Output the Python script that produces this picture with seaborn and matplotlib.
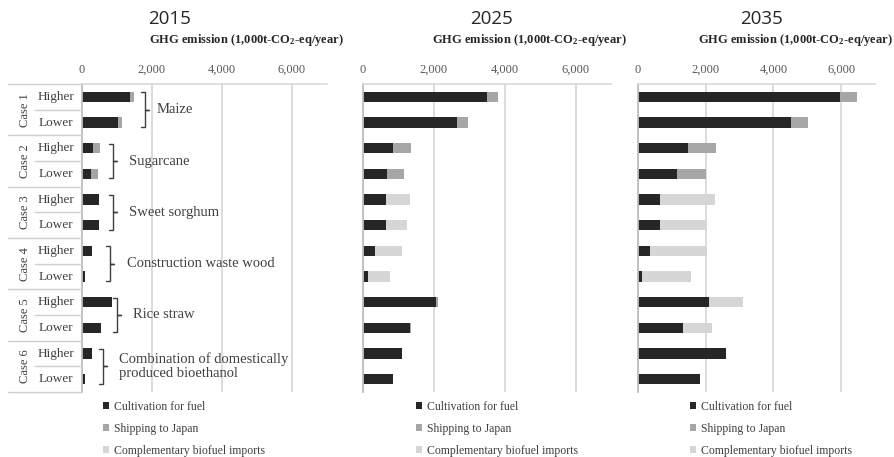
import matplotlib
matplotlib.use("Agg")
import matplotlib.pyplot as plt
import seaborn as sns
import pandas as pd
from matplotlib.lines import Line2D
from matplotlib.patches import Patch
from matplotlib.transforms import blended_transform_factory
from matplotlib.ticker import FuncFormatter

# ---------------- data ----------------
years = ["2015", "2025", "2035"]
cases = ["Case 1", "Case 2", "Case 3", "Case 4", "Case 5", "Case 6"]
scenarios = ["Higher", "Lower"]
feedstocks = ["Maize", "Sugarcane", "Sweet sorghum", "Construction waste wood",
              "Rice straw", "Combination of domestically\nproduced bioethanol"]
series = ["Cultivation for fuel", "Shipping to Japan", "Complementary biofuel imports"]

cult_2015 = [1370, 1030, 320, 250, 500, 500, 300, 100, 850, 530, 300, 100]
ship_2015 = [120, 110, 190, 200, 0, 0, 0, 0, 0, 0, 0, 0]
comp_2015 = [0, 0, 0, 0, 0, 0, 0, 0, 0, 0, 0, 0]

cult_2025 = [3510, 2650, 850, 690, 640, 640, 350, 130, 2060, 1320, 1100, 850]
ship_2025 = [300, 310, 510, 480, 0, 0, 0, 0, 70, 30, 0, 0]
comp_2025 = [0, 0, 0, 0, 690, 610, 740, 640, 0, 0, 0, 0]

cult_2035 = [5980, 4510, 1470, 1140, 660, 660, 350, 120, 2100, 1330, 2610, 1820]
ship_2035 = [500, 510, 830, 860, 0, 0, 0, 0, 0, 0, 0, 0]
comp_2035 = [0, 0, 0, 0, 1600, 1390, 1680, 1450, 990, 860, 0, 0]

xticks = [0, 2000, 4000, 6000]

# ---------------- style ----------------
sns.set_theme(style="white")
plt.rcParams["font.family"] = ["Liberation Serif", "DejaVu Serif"]
plt.rcParams["mathtext.default"] = "regular"

colors = ["#262626", "#a6a6a6", "#d6d6d6"]
txt = "#404040"
grid_c = "#d9d9d9"

W, H = 895, 457
fig = plt.figure(figsize=(W / 100, H / 100), dpi=100)

def fx(px):
    return px / W

def fy(py):
    return 1 - py / H

top_px, bot_px = 84, 392
panels = [(82, 327), (363, 611), (638, 875)]
title_x = [170, 492, 762]
sub_x = [246, 529, 795]
legend_x = [103, 416, 690]

rows = [f"{c} {s}" for c in cases for s in scenarios]
data = {
    "2015": (cult_2015, ship_2015, comp_2015),
    "2025": (cult_2025, ship_2025, comp_2025),
    "2035": (cult_2035, ship_2035, comp_2035),
}

axes = []
for i, yr in enumerate(years):
    l, r = panels[i]
    ax = fig.add_axes([fx(l), fy(bot_px), fx(r) - fx(l), fy(top_px) - fy(bot_px)])
    axes.append(ax)
    cult, ship, comp = data[yr]
    df = pd.DataFrame({"row": rows, "cult": cult, "ship": ship, "comp": comp})
    df["s2"] = df["cult"] + df["ship"]
    df["s3"] = df["s2"] + df["comp"]
    for col, c in zip(["s3", "s2", "cult"], [colors[2], colors[1], colors[0]]):
        sns.barplot(data=df, y="row", x=col, order=rows, color=c, orient="h",
                    width=0.4, errorbar=None, ax=ax, saturation=1,
                    edgecolor="none", linewidth=0)
    ax.set_xlim(0, 7000)
    ax.set_ylim(11.5, -0.5)
    ax.set_xticks(xticks)
    ax.xaxis.set_major_formatter(FuncFormatter(lambda v, p: f"{int(v):,}"))
    ax.xaxis.tick_top()
    ax.tick_params(axis="x", length=0, pad=6, labelsize=9, labelcolor="#595959")
    ax.set_yticks([])
    ax.set_xlabel("")
    ax.set_ylabel("")
    for lab in ax.get_xticklabels():
        lab.set_fontfamily(["Liberation Serif"])
    ax.grid(axis="x", color=grid_c, linewidth=1.3)
    ax.set_axisbelow(True)
    for s in ["right", "bottom"]:
        ax.spines[s].set_visible(False)
    ax.spines["top"].set_color(grid_c)
    ax.spines["top"].set_linewidth(1.2)
    ax.spines["left"].set_color("#bfbfbf")
    ax.spines["left"].set_linewidth(1.3)

    fig.text(fx(title_x[i]), fy(19), yr, ha="center", va="center",
             fontsize=13.5, family=["Open Sans", "DejaVu Sans"], color="#262626")
    fig.text(fx(sub_x[i]), fy(40), "GHG emission (1,000t-CO$_2$-eq/year)",
             ha="center", va="center", fontsize=9, fontweight="bold", color="#262626")

    handles = [Patch(facecolor=c, edgecolor="none") for c in colors]
    ax.legend(handles, series, loc="upper left",
              bbox_to_anchor=(fx(legend_x[i]), fy(401)), bbox_transform=fig.transFigure,
              frameon=False, handlelength=0.55, handleheight=0.55, handletextpad=0.35,
              labelspacing=0.85, borderpad=0, borderaxespad=0,
              prop={"family": "Liberation Serif", "size": 8.5}, labelcolor=txt)

# ---------------- left table of cases ----------------
ax1 = axes[0]
tr = blended_transform_factory(fig.transFigure, ax1.transData)
line_c = "#cfcfcf"

def hline(x0, x1, y):
    fig.add_artist(Line2D([fx(x0), fx(x1)], [y, y], transform=tr, color=line_c,
                          linewidth=1.0))

hline(8, 82, -0.5)
for k in range(6):
    y0 = 2 * k
    hline(8, 82, y0 + 1.5)
    hline(35, 82, y0 + 0.5)
    fig.text(fx(25), y0 + 0.5, cases[k], transform=tr, rotation=90, ha="center",
             va="center", fontsize=9, color=txt)
    fig.text(fx(56), y0, "Higher", transform=tr, ha="center", va="center",
             fontsize=9.5, color=txt)
    fig.text(fx(56), y0 + 1, "Lower", transform=tr, ha="center", va="center",
             fontsize=9.5, color=txt)

# brackets and feedstock labels
br_x = [145, 113, 113, 110, 117, 103]
lab_x = [157, 129, 129, 127, 133, 119]
for k in range(6):
    y0 = 2 * k - 0.17
    y1 = 2 * k + 1.17
    ym = 2 * k + 0.5
    bx = br_x[k]
    xs = [fx(bx - 4), fx(bx), fx(bx), fx(bx + 4), fx(bx), fx(bx), fx(bx - 4)]
    ys = [y0, y0, ym, ym, ym, y1, y1]
    fig.add_artist(Line2D(xs, ys, transform=tr, color="#404040", linewidth=1.0))
    fig.text(fx(lab_x[k]), ym, feedstocks[k], transform=tr, ha="left", va="center",
             fontsize=10.5, color=txt, linespacing=1.1)

fig.savefig("out.png", dpi=100)
